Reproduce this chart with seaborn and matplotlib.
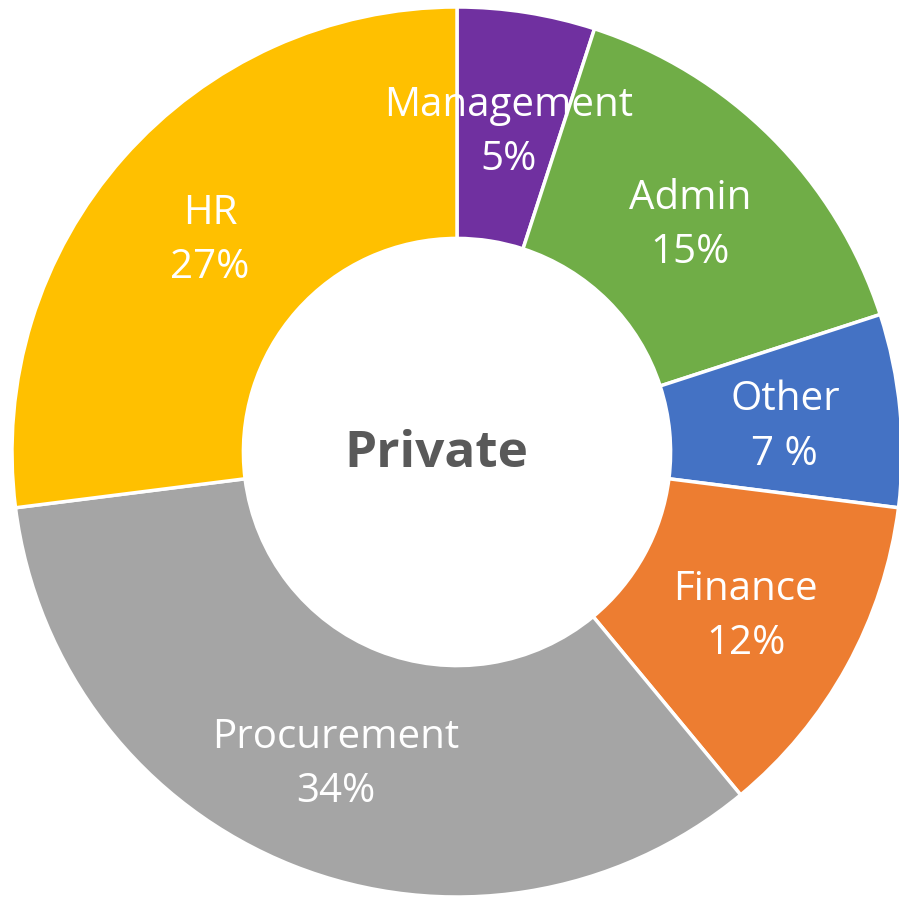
import matplotlib
matplotlib.use("Agg")
import matplotlib.pyplot as plt
import seaborn as sns

# slice data, clockwise from the top
departments = ['Management', 'Admin', 'Other', 'Finance', 'Procurement', 'HR']
shares = [5, 15, 7, 12, 34, 27]
share_labels = ['5%', '15%', '7 %', '12%', '34%', '27%']
slice_colors = ['#7030A0', '#70AD47', '#4472C4', '#ED7D31', '#A5A5A5', '#FFC000']
center_title = 'Private'

sns.set_theme(style="white")
plt.rcParams['font.family'] = ['Open Sans', 'DejaVu Sans']

fig = plt.figure(figsize=(8.99, 9.02), dpi=100)
ax = fig.add_axes([0, 0, 1, 1])

# label text is name + percentage on two lines
labels = [f"{d}\n{p}" for d, p in zip(departments, share_labels)]

wedges, texts = ax.pie(
    shares,
    labels=labels,
    colors=slice_colors,
    startangle=90,
    counterclock=False,
    labeldistance=0.74,
    wedgeprops=dict(width=0.52, edgecolor='white', linewidth=2.5),
    textprops=dict(color='white', fontsize=29),
)
for t in texts:
    t.set_ha('center')
    t.set_va('center')
    t.set_linespacing(1.45)
    # labels sit a touch lower in the original
    x, y = t.get_position()
    t.set_position((x, y - 0.014))

# the centre title sits a bit left of the hole centre in the original
ax.text(-0.047, -0.005, center_title, ha='center', va='center', fontsize=37,
        fontweight='bold', color='#595959')

# place the donut the way it sits in the original picture (slightly cut at right)
r_px = 445
ax.set_xlim(-457 / r_px, (899 - 457) / r_px)
ax.set_ylim(-(902 - 452) / r_px, 452 / r_px)
ax.set_aspect('auto')
ax.axis('off')

fig.savefig('out.png', dpi=100)
